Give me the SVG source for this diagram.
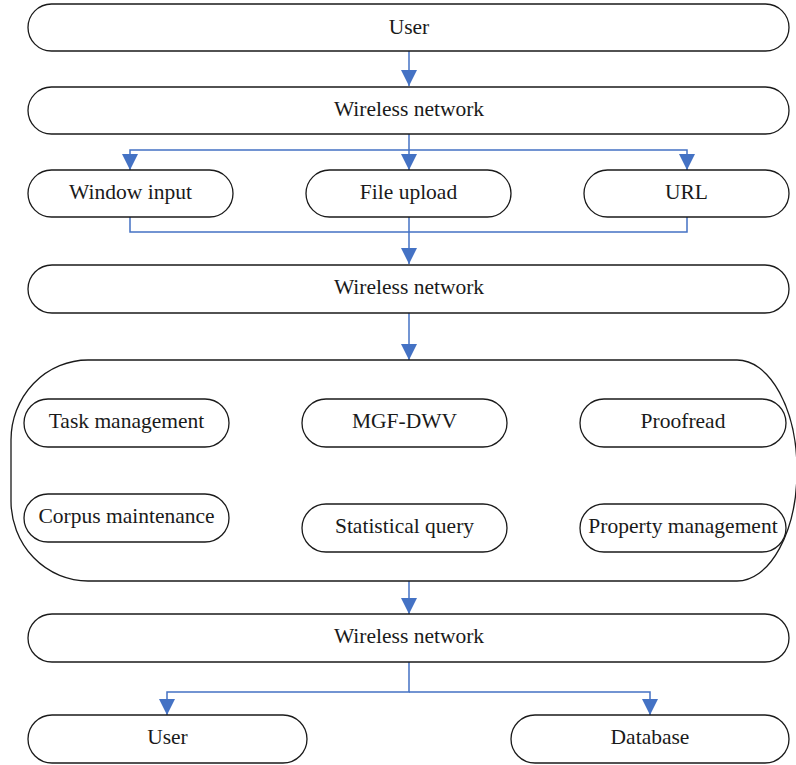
<svg xmlns="http://www.w3.org/2000/svg" width="796" height="765" viewBox="0 0 796 765">
<defs>
<style>
.box{fill:#fff;stroke:#1a1a1a;stroke-width:1.3}
.lbl{font-family:"Liberation Serif","Times New Roman",serif;font-size:21.5px;fill:#1a1a1a;text-anchor:middle}
.con{fill:none;stroke:#4472C4;stroke-width:1.5}
</style>
<marker id="ah" markerUnits="userSpaceOnUse" markerWidth="16" markerHeight="16" refX="16" refY="8" orient="auto" viewBox="0 0 16 16">
<path d="M0,0 L16,8 L0,16 Z" fill="#4472C4"/>
</marker>
</defs>
<rect width="796" height="765" fill="#fff"/>
<g id="connectors">
<path class="con" d="M409 51 V86" marker-end="url(#ah)"/>
<path class="con" d="M409 134 V170" marker-end="url(#ah)"/>
<path class="con" d="M409 150 H130 V170" marker-end="url(#ah)"/>
<path class="con" d="M409 150 H687 V170" marker-end="url(#ah)"/>
<path class="con" d="M130 217 V232 H687 V217"/>
<path class="con" d="M409 217 V264" marker-end="url(#ah)"/>
<path class="con" d="M409 313 V360" marker-end="url(#ah)"/>
<path class="con" d="M409 581 V614" marker-end="url(#ah)"/>
<path class="con" d="M409 662 V692 H167 V715" marker-end="url(#ah)"/>
<path class="con" d="M409 692 H650 V715" marker-end="url(#ah)"/>
</g>
<g id="user-top"><rect class="box" x="28" y="4" width="761" height="47" rx="23.5"/><text class="lbl" x="409" y="34">User</text></g>
<g id="wireless-1"><rect class="box" x="28" y="87" width="761" height="47" rx="23.5"/><text class="lbl" x="409" y="116">Wireless network</text></g>
<g id="window-input"><rect class="box" x="28" y="170" width="205" height="47" rx="23.5"/><text class="lbl" x="130.5" y="199">Window input</text></g>
<g id="file-upload"><rect class="box" x="306" y="170" width="205" height="47" rx="23.5"/><text class="lbl" x="408.5" y="199">File upload</text></g>
<g id="url"><rect class="box" x="584" y="170" width="205" height="47" rx="23.5"/><text class="lbl" x="686.5" y="199">URL</text></g>
<g id="wireless-2"><rect class="box" x="28" y="265" width="761" height="48" rx="24"/><text class="lbl" x="409" y="294">Wireless network</text></g>
<g id="system">
<path class="box" d="M88 360 H737 A60 110.5 0 0 1 737 581 H88 A77 80 0 0 1 11 501 V440 A77 80 0 0 1 88 360 Z"/>
</g>
<g id="task-management"><rect class="box" x="24" y="399" width="205" height="48" rx="24"/><text class="lbl" x="126.5" y="428">Task management</text></g>
<g id="mgf-dwv"><rect class="box" x="302" y="399" width="205" height="48" rx="24"/><text class="lbl" x="404.5" y="428">MGF-DWV</text></g>
<g id="proofread"><rect class="box" x="580" y="399" width="206" height="48" rx="24"/><text class="lbl" x="683" y="428">Proofread</text></g>
<g id="corpus-maintenance"><rect class="box" x="24" y="494" width="205" height="48" rx="24"/><text class="lbl" x="126.5" y="523">Corpus maintenance</text></g>
<g id="statistical-query"><rect class="box" x="302" y="504" width="205" height="48" rx="24"/><text class="lbl" x="404.5" y="533">Statistical query</text></g>
<g id="property-management"><rect class="box" x="580" y="504" width="206" height="48" rx="24"/><text class="lbl" x="683" y="533">Property management</text></g>
<g id="wireless-3"><rect class="box" x="28" y="614" width="761" height="48" rx="24"/><text class="lbl" x="409" y="643">Wireless network</text></g>
<g id="user-bottom"><rect class="box" x="28" y="715" width="279" height="48" rx="24"/><text class="lbl" x="167.5" y="744">User</text></g>
<g id="database"><rect class="box" x="511" y="715" width="278" height="48" rx="24"/><text class="lbl" x="650" y="744">Database</text></g>
</svg>
